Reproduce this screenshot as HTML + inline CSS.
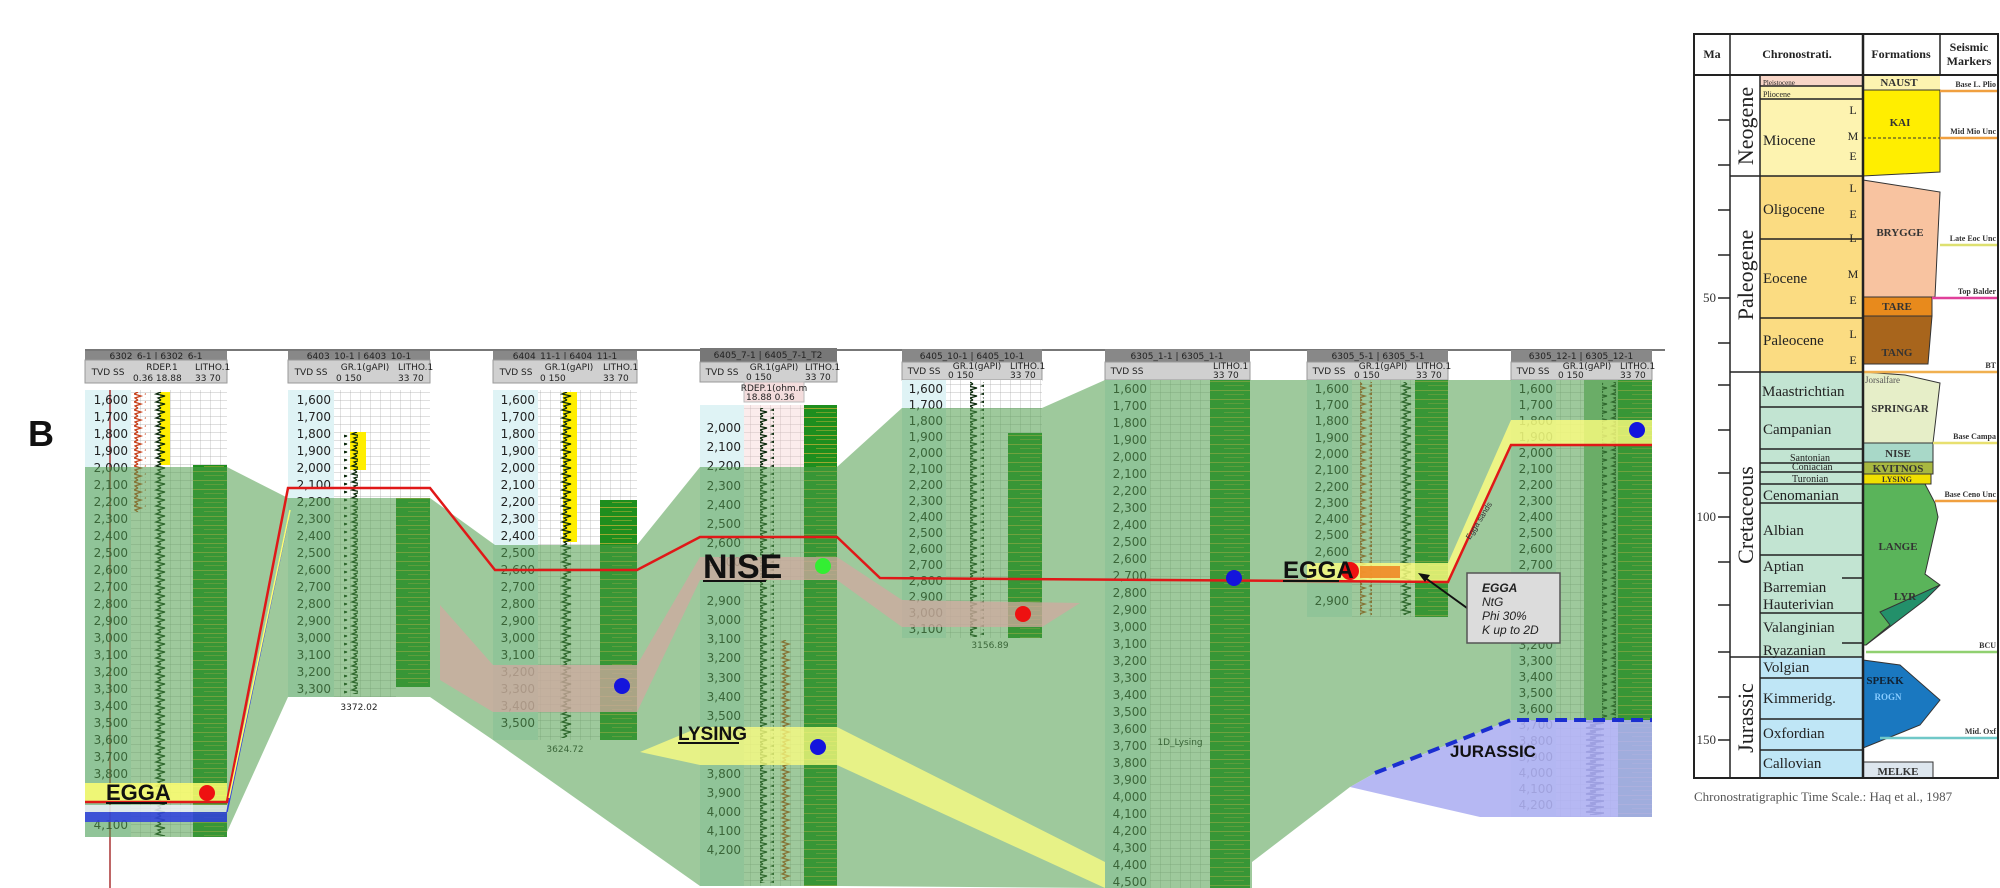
<!DOCTYPE html>
<html><head><meta charset="utf-8"><style>
html,body{margin:0;padding:0;background:#fff}
svg{display:block}
.dl{font:12px "DejaVu Sans","Liberation Sans",sans-serif;fill:#222;text-anchor:end}
.hd{font:9px "DejaVu Sans","Liberation Sans",sans-serif;fill:#222}
.ser{font-family:"Liberation Serif",serif}
</style></head><body>
<svg width="2000" height="888" viewBox="0 0 2000 888" xmlns="http://www.w3.org/2000/svg">
<defs>
<pattern id="grid" width="10" height="8" patternUnits="userSpaceOnUse"><rect width="10" height="8" fill="#fff"/><path d="M0,0H10M0,0V8" stroke="#aaa" stroke-width="0.7"/></pattern>
<pattern id="litho" width="34" height="9" patternUnits="userSpaceOnUse"><rect width="34" height="9" fill="#1e8e1e"/><rect y="3" width="34" height="1" fill="#9aa830"/><rect y="7" width="20" height="1" fill="#6fa12a"/></pattern>
<pattern id="zig" width="14" height="8" patternUnits="userSpaceOnUse"><path d="M7,0 L2,2 L11,4 L4,6 L7,8" stroke="#0c2a0c" stroke-width="1.3" fill="none"/></pattern>
<pattern id="zigr" width="12" height="8" patternUnits="userSpaceOnUse"><path d="M6,0 L2,2 L9,4 L3,6 L6,8" stroke="#c8401a" stroke-width="1.3" fill="none"/></pattern>
<pattern id="zigb" width="24" height="6" patternUnits="userSpaceOnUse"><path d="M12,0 L2,2 L20,3 L6,5 L12,6" stroke="#10104a" stroke-width="1.5" fill="none"/></pattern>
</defs>

<text x="28" y="446" font-family="Liberation Sans" font-weight="bold" font-size="36" fill="#111">B</text>
<line x1="85" y1="350" x2="1665" y2="350" stroke="#777" stroke-width="2"/>

<!-- WELL 1 -->
<g>
<rect x="85" y="351" width="142" height="9" fill="#888"/><text x="156" y="359" class="hd" text-anchor="middle">6302_6-1 | 6302_6-1</text>
<rect x="85" y="360" width="142" height="23" fill="#d0d0d0" stroke="#999"/>
<text x="108" y="375" class="hd" text-anchor="middle">TVD SS</text><text x="162" y="370" class="hd" fill="#d22" text-anchor="middle">RDEP.1</text><text x="133" y="381" class="hd" fill="#d22">0.36     18.88</text><text x="195" y="370" class="hd">LITHO.1</text><text x="195" y="381" class="hd">33   70</text>
<rect x="85" y="390" width="46" height="447" fill="#dff3f5"/>
<rect x="131" y="390" width="62" height="447" fill="url(#grid)"/>
<rect x="193" y="390" width="34" height="75" fill="url(#grid)"/>
<rect x="193" y="465" width="34" height="372" fill="url(#litho)"/>
<rect x="160" y="392" width="10" height="73" fill="#ffee00"/>
<rect x="153" y="392" width="14" height="444" fill="url(#zig)"/>
<rect x="134" y="392" width="12" height="120" fill="url(#zigr)"/>
<line x1="110" y1="390" x2="110" y2="888" stroke="#a33" stroke-width="1.5"/>
<g class="dl"><text x="128" y="404">1,600</text><text x="128" y="421">1,700</text><text x="128" y="438">1,800</text><text x="128" y="455">1,900</text><text x="128" y="472">2,000</text><text x="128" y="489">2,100</text><text x="128" y="506">2,200</text><text x="128" y="523">2,300</text><text x="128" y="540">2,400</text><text x="128" y="557">2,500</text><text x="128" y="574">2,600</text><text x="128" y="591">2,700</text><text x="128" y="608">2,800</text><text x="128" y="625">2,900</text><text x="128" y="642">3,000</text><text x="128" y="659">3,100</text><text x="128" y="676">3,200</text><text x="128" y="693">3,300</text><text x="128" y="710">3,400</text><text x="128" y="727">3,500</text><text x="128" y="744">3,600</text><text x="128" y="761">3,700</text><text x="128" y="778">3,800</text><text x="128" y="829">4,100</text></g>
</g>

<!-- WELL 2 -->
<g>
<rect x="288" y="351" width="142" height="9" fill="#888"/><text x="359" y="359" class="hd" text-anchor="middle">6403_10-1 | 6403_10-1</text>
<rect x="288" y="360" width="142" height="23" fill="#d0d0d0" stroke="#999"/>
<text x="311" y="375" class="hd" text-anchor="middle">TVD SS</text><text x="365" y="370" class="hd" text-anchor="middle">GR.1(gAPI)</text><text x="336" y="381" class="hd">0              150</text><text x="398" y="370" class="hd">LITHO.1</text><text x="398" y="381" class="hd">33   70</text>
<rect x="288" y="390" width="46" height="307" fill="#dff3f5"/>
<rect x="334" y="390" width="62" height="307" fill="url(#grid)"/>
<rect x="396" y="390" width="34" height="108" fill="url(#grid)"/>
<rect x="396" y="498" width="34" height="189" fill="url(#litho)"/>
<rect x="350" y="432" width="16" height="38" fill="#ffee00"/>
<rect x="344" y="432" width="14" height="262" fill="url(#zig)"/>
<g class="dl"><text x="331" y="404">1,600</text><text x="331" y="421">1,700</text><text x="331" y="438">1,800</text><text x="331" y="455">1,900</text><text x="331" y="472">2,000</text><text x="331" y="489">2,100</text><text x="331" y="506">2,200</text><text x="331" y="523">2,300</text><text x="331" y="540">2,400</text><text x="331" y="557">2,500</text><text x="331" y="574">2,600</text><text x="331" y="591">2,700</text><text x="331" y="608">2,800</text><text x="331" y="625">2,900</text><text x="331" y="642">3,000</text><text x="331" y="659">3,100</text><text x="331" y="676">3,200</text><text x="331" y="693">3,300</text></g>
<text x="359" y="710" class="hd" fill="#c66" text-anchor="middle">3372.02</text>
</g>

<!-- WELL 3 -->
<g>
<rect x="493" y="351" width="144" height="9" fill="#888"/><text x="565" y="359" class="hd" text-anchor="middle">6404_11-1 | 6404_11-1</text>
<rect x="493" y="360" width="144" height="23" fill="#d0d0d0" stroke="#999"/>
<text x="516" y="375" class="hd" text-anchor="middle">TVD SS</text><text x="569" y="370" class="hd" text-anchor="middle">GR.1(gAPI)</text><text x="540" y="381" class="hd">0              150</text><text x="603" y="370" class="hd">LITHO.1</text><text x="603" y="381" class="hd">33   70</text>
<rect x="493" y="390" width="45" height="350" fill="#dff3f5"/>
<rect x="538" y="390" width="62" height="350" fill="url(#grid)"/>
<rect x="600" y="390" width="37" height="155" fill="url(#grid)"/>
<rect x="600" y="500" width="37" height="240" fill="url(#litho)"/>
<rect x="563" y="392" width="14" height="150" fill="#ffee00"/>
<rect x="558" y="392" width="14" height="346" fill="url(#zig)"/>
<g class="dl"><text x="535" y="404">1,600</text><text x="535" y="421">1,700</text><text x="535" y="438">1,800</text><text x="535" y="455">1,900</text><text x="535" y="472">2,000</text><text x="535" y="489">2,100</text><text x="535" y="506">2,200</text><text x="535" y="523">2,300</text><text x="535" y="540">2,400</text><text x="535" y="557">2,500</text><text x="535" y="574">2,600</text><text x="535" y="591">2,700</text><text x="535" y="608">2,800</text><text x="535" y="625">2,900</text><text x="535" y="642">3,000</text><text x="535" y="659">3,100</text><text x="535" y="676">3,200</text><text x="535" y="693">3,300</text><text x="535" y="710">3,400</text><text x="535" y="727">3,500</text></g>
<text x="565" y="752" class="hd" fill="#a66" text-anchor="middle">3624.72</text>
</g>

<!-- WELL 4 -->
<g>
<rect x="700" y="348" width="137" height="14" fill="#777"/><text x="768" y="358" class="hd" text-anchor="middle">6405_7-1 | 6405_7-1_T2</text>
<rect x="700" y="362" width="137" height="20" fill="#d0d0d0" stroke="#999"/>
<text x="722" y="375" class="hd" text-anchor="middle">TVD SS</text><text x="774" y="370" class="hd" text-anchor="middle">GR.1(gAPI)</text><text x="746" y="380" class="hd">0           150</text><text x="805" y="370" class="hd">LITHO.1</text><text x="805" y="380" class="hd">33   70</text>
<rect x="744" y="382" width="60" height="20" fill="#f3dcdc" stroke="#bbb"/><text x="774" y="391" class="hd" fill="#d22" text-anchor="middle">RDEP.1(ohm.m</text><text x="746" y="400" class="hd" fill="#d22">18.88      0.36</text>
<rect x="700" y="405" width="44" height="481" fill="#dff3f5"/>
<rect x="744" y="405" width="60" height="481" fill="url(#grid)"/>
<rect x="744" y="405" width="60" height="62" fill="#f4c8c8" fill-opacity="0.35"/>
<rect x="804" y="405" width="33" height="481" fill="url(#litho)"/>
<rect x="760" y="408" width="14" height="475" fill="url(#zig)"/>
<rect x="780" y="640" width="12" height="240" fill="url(#zigr)"/>
<g class="dl"><text x="741" y="432">2,000</text><text x="741" y="451">2,100</text><text x="741" y="470">2,200</text><text x="741" y="490">2,300</text><text x="741" y="509">2,400</text><text x="741" y="528">2,500</text><text x="741" y="547">2,600</text><text x="741" y="566">2,700</text><text x="741" y="605">2,900</text><text x="741" y="624">3,000</text><text x="741" y="643">3,100</text><text x="741" y="662">3,200</text><text x="741" y="682">3,300</text><text x="741" y="701">3,400</text><text x="741" y="720">3,500</text><text x="741" y="739">3,600</text><text x="741" y="778">3,800</text><text x="741" y="797">3,900</text><text x="741" y="816">4,000</text><text x="741" y="835">4,100</text><text x="741" y="854">4,200</text></g>
</g>

<!-- WELL 5 -->
<g>
<rect x="902" y="349" width="140" height="13" fill="#888"/><text x="972" y="359" class="hd" text-anchor="middle">6405_10-1 | 6405_10-1</text>
<rect x="902" y="362" width="140" height="18" fill="#d0d0d0" stroke="#999"/>
<text x="924" y="374" class="hd" text-anchor="middle">TVD SS</text><text x="977" y="369" class="hd" text-anchor="middle">GR.1(gAPI)</text><text x="948" y="378" class="hd">0            150</text><text x="1010" y="369" class="hd">LITHO.1</text><text x="1010" y="378" class="hd">33  70</text>
<rect x="902" y="380" width="44" height="258" fill="#dff3f5"/>
<rect x="946" y="380" width="62" height="258" fill="url(#grid)"/>
<rect x="1008" y="380" width="34" height="53" fill="url(#grid)"/>
<rect x="1008" y="433" width="34" height="205" fill="url(#litho)"/>
<rect x="970" y="382" width="14" height="255" fill="url(#zig)"/>
<g class="dl"><text x="943" y="393">1,600</text><text x="943" y="409">1,700</text><text x="943" y="425">1,800</text><text x="943" y="441">1,900</text><text x="943" y="457">2,000</text><text x="943" y="473">2,100</text><text x="943" y="489">2,200</text><text x="943" y="505">2,300</text><text x="943" y="521">2,400</text><text x="943" y="537">2,500</text><text x="943" y="553">2,600</text><text x="943" y="569">2,700</text><text x="943" y="585">2,800</text><text x="943" y="601">2,900</text><text x="943" y="617">3,000</text><text x="943" y="633">3,100</text></g>
<text x="990" y="648" class="hd" fill="#a55" text-anchor="middle">3156.89</text>
</g>

<!-- WELL 6 -->
<g>
<rect x="1105" y="349" width="145" height="13" fill="#888"/><text x="1177" y="359" class="hd" text-anchor="middle">6305_1-1 | 6305_1-1</text>
<rect x="1105" y="362" width="145" height="18" fill="#d0d0d0" stroke="#999"/>
<text x="1127" y="374" class="hd" text-anchor="middle">TVD SS</text><text x="1213" y="369" class="hd">LITHO.1</text><text x="1213" y="378" class="hd">33  70</text>
<rect x="1105" y="380" width="45" height="508" fill="#dff3f5"/>
<rect x="1150" y="380" width="60" height="508" fill="url(#grid)"/>
<rect x="1210" y="380" width="40" height="508" fill="url(#litho)"/>
<g class="dl"><text x="1147" y="393">1,600</text><text x="1147" y="410">1,700</text><text x="1147" y="427">1,800</text><text x="1147" y="444">1,900</text><text x="1147" y="461">2,000</text><text x="1147" y="478">2,100</text><text x="1147" y="495">2,200</text><text x="1147" y="512">2,300</text><text x="1147" y="529">2,400</text><text x="1147" y="546">2,500</text><text x="1147" y="563">2,600</text><text x="1147" y="580">2,700</text><text x="1147" y="597">2,800</text><text x="1147" y="614">2,900</text><text x="1147" y="631">3,000</text><text x="1147" y="648">3,100</text><text x="1147" y="665">3,200</text><text x="1147" y="682">3,300</text><text x="1147" y="699">3,400</text><text x="1147" y="716">3,500</text><text x="1147" y="733">3,600</text><text x="1147" y="750">3,700</text><text x="1147" y="767">3,800</text><text x="1147" y="784">3,900</text><text x="1147" y="801">4,000</text><text x="1147" y="818">4,100</text><text x="1147" y="835">4,200</text><text x="1147" y="852">4,300</text><text x="1147" y="869">4,400</text><text x="1147" y="886">4,500</text></g>
<text x="1180" y="745" class="hd" fill="#555" text-anchor="middle">1D_Lysing</text>
</g>

<!-- WELL 7 -->
<g>
<rect x="1307" y="350" width="141" height="12" fill="#888"/><text x="1378" y="359" class="hd" text-anchor="middle">6305_5-1 | 6305_5-1</text>
<rect x="1307" y="362" width="141" height="18" fill="#d0d0d0" stroke="#999"/>
<text x="1329" y="374" class="hd" text-anchor="middle">TVD SS</text><text x="1383" y="369" class="hd" text-anchor="middle">GR.1(gAPI)</text><text x="1354" y="378" class="hd">0            150</text><text x="1416" y="369" class="hd">LITHO.1</text><text x="1416" y="378" class="hd">33  70</text>
<rect x="1307" y="380" width="45" height="237" fill="#dff3f5"/>
<rect x="1352" y="380" width="63" height="237" fill="url(#grid)"/>
<rect x="1415" y="380" width="33" height="237" fill="url(#litho)"/>
<rect x="1360" y="382" width="12" height="233" fill="url(#zigr)"/>
<rect x="1399" y="382" width="14" height="233" fill="url(#zig)"/>
<g class="dl"><text x="1349" y="393">1,600</text><text x="1349" y="409">1,700</text><text x="1349" y="425">1,800</text><text x="1349" y="442">1,900</text><text x="1349" y="458">2,000</text><text x="1349" y="474">2,100</text><text x="1349" y="491">2,200</text><text x="1349" y="507">2,300</text><text x="1349" y="523">2,400</text><text x="1349" y="539">2,500</text><text x="1349" y="556">2,600</text><text x="1349" y="605">2,900</text></g>
</g>

<!-- WELL 8 -->
<g>
<rect x="1511" y="350" width="141" height="12" fill="#888"/><text x="1581" y="359" class="hd" text-anchor="middle">6305_12-1 | 6305_12-1</text>
<rect x="1511" y="362" width="141" height="18" fill="#d0d0d0" stroke="#999"/>
<text x="1533" y="374" class="hd" text-anchor="middle">TVD SS</text><text x="1587" y="369" class="hd" text-anchor="middle">GR.1(gAPI)</text><text x="1558" y="378" class="hd">0            150</text><text x="1620" y="369" class="hd">LITHO.1</text><text x="1620" y="378" class="hd">33  70</text>
<rect x="1511" y="380" width="45" height="437" fill="#dff3f5"/>
<rect x="1556" y="380" width="62" height="437" fill="url(#grid)"/>
<rect x="1618" y="380" width="34" height="437" fill="url(#litho)"/>
<rect x="1584" y="380" width="34" height="340" fill="#8cc08a"/>
<rect x="1602" y="382" width="14" height="338" fill="url(#zig)"/>
<rect x="1580" y="720" width="24" height="95" fill="url(#zigb)"/>
<g class="dl"><text x="1553" y="393">1,600</text><text x="1553" y="409">1,700</text><text x="1553" y="425">1,800</text><text x="1553" y="441">1,900</text><text x="1553" y="457">2,000</text><text x="1553" y="473">2,100</text><text x="1553" y="489">2,200</text><text x="1553" y="505">2,300</text><text x="1553" y="521">2,400</text><text x="1553" y="537">2,500</text><text x="1553" y="553">2,600</text><text x="1553" y="569">2,700</text><text x="1553" y="649">3,200</text><text x="1553" y="665">3,300</text><text x="1553" y="681">3,400</text><text x="1553" y="697">3,500</text><text x="1553" y="713">3,600</text><text x="1553" y="729">3,700</text><text x="1553" y="745">3,800</text><text x="1553" y="761">3,900</text><text x="1553" y="777">4,000</text><text x="1553" y="793">4,100</text><text x="1553" y="809">4,200</text></g>
</g>

<!-- green correlation overlay -->
<polygon fill="#4f9c4a" fill-opacity="0.55" points="85,467 227,467 288,498 430,498 495,545 637,545 700,467 837,467 902,408 1042,408 1105,380 1652,380 1652,720 1511,720 1375,773 1350,787 1252,862 1252,888 1105,888 837,886 700,886 493,740 430,697 288,697 227,832 227,837 85,837"/>
<!-- jurassic -->
<polygon fill="#aeb0f2" fill-opacity="0.9" points="1511,720 1652,720 1652,817 1511,817 1480,817 1350,787 1375,773"/>
<polyline points="1375,773 1511,720 1652,720" fill="none" stroke="#1a2ed0" stroke-width="4" stroke-dasharray="12,7"/>
<!-- NISE brown band -->
<polygon fill="#d0a8a0" fill-opacity="0.75" points="440,605 493,665 637,665 700,557 837,557 902,600 1080,603 1042,627 902,627 837,580 700,580 637,712 493,712 440,680"/>
<!-- LYSING yellow -->
<polygon fill="#ffff80" fill-opacity="0.75" points="640,752 700,727 837,727 1105,862 1105,888 837,765 700,765"/>
<!-- EGGA bands -->
<rect x="85" y="783" width="142" height="19" fill="#ffff70" fill-opacity="0.85"/>
<rect x="85" y="805" width="142" height="7" fill="#f4f4ff" fill-opacity="0.8"/>
<rect x="85" y="812" width="142" height="10" fill="#3040e0" fill-opacity="0.85"/>
<polygon fill="#ffff80" fill-opacity="0.8" points="1307,563 1448,563 1511,420 1652,420 1652,445 1511,445 1448,582 1307,582"/>
<rect x="1360" y="566" width="40" height="12" fill="#f07a1a" fill-opacity="0.8"/>
<!-- red correlation line -->
<polyline points="85,802 227,802 288,488 430,488 495,570 637,570 700,537 837,537 880,578 1448,582 1511,445 1652,445" fill="none" stroke="#e01818" stroke-width="2.5"/>
<line x1="227" y1="812" x2="288" y2="520" stroke="#3040e0" stroke-width="1.5"/>
<line x1="229" y1="798" x2="290" y2="510" stroke="#ffff70" stroke-width="1.5"/>
<!-- dots -->
<circle cx="207" cy="793" r="8" fill="#ee1111"/>
<circle cx="622" cy="686" r="8" fill="#1414dd"/>
<circle cx="823" cy="566" r="8" fill="#33ee33"/>
<circle cx="818" cy="747" r="8" fill="#1414dd"/>
<circle cx="1023" cy="614" r="8" fill="#ee1111"/>
<circle cx="1234" cy="578" r="8" fill="#1414dd"/>
<circle cx="1350" cy="571" r="9" fill="#ee1111"/>
<circle cx="1637" cy="430" r="8" fill="#1414dd"/>
<!-- labels -->
<g font-family="Liberation Sans" font-weight="bold" fill="#111">
<text x="106" y="800" font-size="22">EGGA</text><line x1="106" y1="803" x2="167" y2="803" stroke="#111" stroke-width="2"/>
<text x="703" y="578" font-size="34">NISE</text><line x1="703" y1="581" x2="766" y2="581" stroke="#111" stroke-width="2"/>
<text x="678" y="740" font-size="19">LYSING</text><line x1="678" y1="743" x2="739" y2="743" stroke="#111" stroke-width="2"/>
<text x="1283" y="578" font-size="24">EGGA</text><line x1="1283" y1="581" x2="1339" y2="581" stroke="#111" stroke-width="2"/>
<text x="1450" y="757" font-size="17">JURASSIC</text>
</g>
<text x="1470" y="540" transform="rotate(-58 1470 540)" font-family="Liberation Sans" font-size="8" fill="#333">Egga sands</text>
<!-- callout -->
<line x1="1467" y1="608" x2="1424" y2="577" stroke="#111" stroke-width="2"/>
<polygon points="1418,573 1430,575 1425,582" fill="#111"/>
<rect x="1467" y="573" width="93" height="70" fill="#dcdcdc" stroke="#555" stroke-width="1.5"/>
<g font-family="Liberation Sans" font-style="italic" font-size="12" fill="#222">
<text x="1482" y="592" font-weight="bold">EGGA</text><text x="1482" y="606">NtG</text><text x="1482" y="620">Phi  30%</text><text x="1482" y="634">K  up to 2D</text>
</g>

<!-- CHRONOSTRAT CHART -->
<g class="ser">
<rect x="1760" y="75" width="103" height="101" fill="#fdf3b0"/>
<rect x="1760" y="75" width="103" height="11" fill="#f8d6c8"/>
<rect x="1760" y="176" width="103" height="196" fill="#fbdc82"/>
<rect x="1760" y="372" width="103" height="285" fill="#c2e4d2"/>
<rect x="1760" y="657" width="103" height="121" fill="#bfe6f6"/>
<g stroke="#222" stroke-width="1.5">
<line x1="1760" y1="86" x2="1863" y2="86"/><line x1="1760" y1="99" x2="1863" y2="99"/><line x1="1760" y1="239" x2="1863" y2="239"/><line x1="1760" y1="318" x2="1863" y2="318"/>
<line x1="1760" y1="407" x2="1863" y2="407"/><line x1="1760" y1="449" x2="1863" y2="449"/><line x1="1760" y1="463" x2="1863" y2="463"/><line x1="1760" y1="472" x2="1863" y2="472"/><line x1="1760" y1="484" x2="1863" y2="484"/><line x1="1760" y1="503" x2="1863" y2="503"/><line x1="1760" y1="555" x2="1863" y2="555"/><line x1="1842" y1="578" x2="1863" y2="578"/><line x1="1760" y1="613" x2="1863" y2="613"/><line x1="1842" y1="643" x2="1863" y2="643"/>
<line x1="1760" y1="678" x2="1863" y2="678"/><line x1="1760" y1="719" x2="1863" y2="719"/><line x1="1760" y1="750" x2="1863" y2="750"/>
<line x1="1730" y1="176" x2="1863" y2="176"/><line x1="1730" y1="372" x2="1863" y2="372"/><line x1="1730" y1="657" x2="1863" y2="657"/>
<line x1="1760" y1="75" x2="1760" y2="778"/>
</g>
<rect x="1863" y="75" width="77" height="15" fill="#fdf3b0"/>
<polygon points="1863,90 1940,90 1940,172 1863,176" fill="#ffee00" stroke="#333"/>
<line x1="1863" y1="138" x2="1940" y2="138" stroke="#333" stroke-dasharray="3,2"/>
<polygon points="1863,180 1940,192 1935,297 1863,297" fill="#f8c3a0" stroke="#333"/>
<polygon points="1863,297 1932,297 1932,316 1863,316" fill="#e88a1c" stroke="#333"/>
<polygon points="1863,316 1932,316 1928,364 1863,364" fill="#a8651c" stroke="#333"/>
<polygon points="1863,372 1905,375 1940,383 1933,443 1863,443" fill="#e6eec8" stroke="#333"/>
<rect x="1863" y="443" width="70" height="19" fill="#a8d8c8" stroke="#333"/>
<rect x="1863" y="462" width="70" height="12" fill="#a8b840" stroke="#333"/>
<rect x="1863" y="474" width="68" height="10" fill="#f0e000" stroke="#333"/>
<polygon points="1863,484 1925,484 1935,503 1938,517 1925,574 1940,585 1866,645 1863,645" fill="#5ab45a" stroke="#333"/>
<polygon points="1940,585 1880,612 1890,625 1872,640 1866,645 1925,600" fill="#23906a" stroke="#333"/>
<polygon points="1863,660 1900,665 1940,700 1920,725 1863,748" fill="#1a78c0" stroke="#333"/>
<rect x="1863" y="762" width="70" height="16" fill="#dde6ee" stroke="#333"/>
<g stroke-width="2.5">
<line x1="1940" y1="91" x2="1998" y2="91" stroke="#f0a040"/>
<line x1="1940" y1="138" x2="1998" y2="138" stroke="#f0a040"/>
<line x1="1940" y1="245" x2="1998" y2="245" stroke="#dde070"/>
<line x1="1932" y1="298" x2="1998" y2="298" stroke="#e0409a"/>
<line x1="1863" y1="372" x2="1998" y2="372" stroke="#f0b050"/>
<line x1="1933" y1="443" x2="1998" y2="443" stroke="#e8e070"/>
<line x1="1935" y1="501" x2="1998" y2="501" stroke="#f0a040"/>
<line x1="1866" y1="652" x2="1998" y2="652" stroke="#90d070"/>
<line x1="1880" y1="738" x2="1998" y2="738" stroke="#70c8c8"/>
</g>
<g font-size="8" font-weight="bold" fill="#333" text-anchor="end">
<text x="1996" y="87">Base L. Plio</text><text x="1996" y="134">Mid Mio Unc</text><text x="1996" y="241">Late Eoc Unc</text><text x="1996" y="294">Top Balder</text><text x="1996" y="368">BT</text><text x="1996" y="439">Base Campa</text><text x="1996" y="497">Base Ceno Unc</text><text x="1996" y="648">BCU</text><text x="1996" y="734">Mid. Oxf</text>
</g>
<g font-size="11" font-weight="bold" fill="#333" text-anchor="middle">
<text x="1899" y="86">NAUST</text><text x="1900" y="126">KAI</text><text x="1900" y="236">BRYGGE</text><text x="1897" y="310">TARE</text><text x="1897" y="356">TANG</text><text x="1900" y="412">SPRINGAR</text><text x="1898" y="457">NISE</text><text x="1898" y="472">KVITNOS</text><text x="1897" y="482" font-size="8">LYSING</text><text x="1898" y="550">LANGE</text><text x="1905" y="600">LYR</text><text x="1885" y="684" fill="#123">SPEKK</text><text x="1888" y="700" font-size="9" fill="#8cf">ROGN</text><text x="1898" y="775">MELKE</text>
</g>
<text x="1865" y="383" font-size="9" fill="#555">Jorsalfare</text>
<g font-size="15" fill="#222">
<text x="1763" y="85" font-size="7">Pleistocene</text><text x="1763" y="97" font-size="8">Pliocene</text>
<text x="1763" y="145">Miocene</text><text x="1763" y="214">Oligocene</text><text x="1763" y="283">Eocene</text><text x="1763" y="345">Paleocene</text>
<text x="1762" y="396">Maastrichtian</text><text x="1763" y="434">Campanian</text>
<text x="1790" y="461" font-size="10">Santonian</text><text x="1792" y="470" font-size="10">Coniacian</text><text x="1792" y="482" font-size="10">Turonian</text>
<text x="1763" y="500">Cenomanian</text><text x="1763" y="535">Albian</text><text x="1763" y="571">Aptian</text><text x="1763" y="592">Barremian</text><text x="1763" y="609">Hauterivian</text><text x="1763" y="632">Valanginian</text><text x="1763" y="655">Ryazanian</text>
<text x="1763" y="672">Volgian</text><text x="1763" y="703">Kimmeridg.</text><text x="1763" y="738">Oxfordian</text><text x="1763" y="768">Callovian</text>
</g>
<g font-size="12" fill="#222" text-anchor="middle">
<text x="1853" y="114">L</text><text x="1853" y="140">M</text><text x="1853" y="160">E</text><text x="1853" y="192">L</text><text x="1853" y="218">E</text><text x="1853" y="242">L</text><text x="1853" y="278">M</text><text x="1853" y="304">E</text><text x="1853" y="338">L</text><text x="1853" y="364">E</text>
</g>
<g font-size="22" fill="#222" text-anchor="middle">
<text transform="translate(1753,126) rotate(-90)">Neogene</text>
<text transform="translate(1753,275) rotate(-90)">Paleogene</text>
<text transform="translate(1753,515) rotate(-90)">Cretaceous</text>
<text transform="translate(1753,718) rotate(-90)">Jurassic</text>
</g>
<g stroke="#222" stroke-width="1.5">
<line x1="1718" y1="120" x2="1730" y2="120"/><line x1="1718" y1="165" x2="1730" y2="165"/><line x1="1718" y1="210" x2="1730" y2="210"/><line x1="1718" y1="255" x2="1730" y2="255"/><line x1="1718" y1="298" x2="1730" y2="298"/><line x1="1718" y1="343" x2="1730" y2="343"/><line x1="1718" y1="385" x2="1730" y2="385"/><line x1="1718" y1="430" x2="1730" y2="430"/><line x1="1718" y1="473" x2="1730" y2="473"/><line x1="1718" y1="517" x2="1730" y2="517"/><line x1="1718" y1="562" x2="1730" y2="562"/><line x1="1718" y1="605" x2="1730" y2="605"/><line x1="1718" y1="652" x2="1730" y2="652"/><line x1="1718" y1="697" x2="1730" y2="697"/><line x1="1718" y1="740" x2="1730" y2="740"/>
</g>
<g font-size="13" fill="#333" text-anchor="end"><text x="1716" y="302">50</text><text x="1716" y="521">100</text><text x="1716" y="744">150</text></g>
<g fill="none" stroke="#222">
<rect x="1694" y="34" width="304" height="744" stroke-width="2"/>
<line x1="1694" y1="75" x2="1998" y2="75" stroke-width="2"/>
<line x1="1730" y1="34" x2="1730" y2="778" stroke-width="1.5"/>
<line x1="1863" y1="34" x2="1863" y2="778" stroke-width="2.5"/>
<line x1="1940" y1="34" x2="1940" y2="75" stroke-width="1.5"/>
</g>
<g font-size="12" font-weight="bold" fill="#222" text-anchor="middle">
<text x="1712" y="58">Ma</text><text x="1797" y="58">Chronostrati.</text><text x="1901" y="58">Formations</text><text x="1969" y="51">Seismic</text><text x="1969" y="65">Markers</text>
</g>
<text x="1694" y="801" font-size="13" fill="#555">Chronostratigraphic Time Scale.: Haq et al., 1987</text>
</g>
</svg>
</body></html>
